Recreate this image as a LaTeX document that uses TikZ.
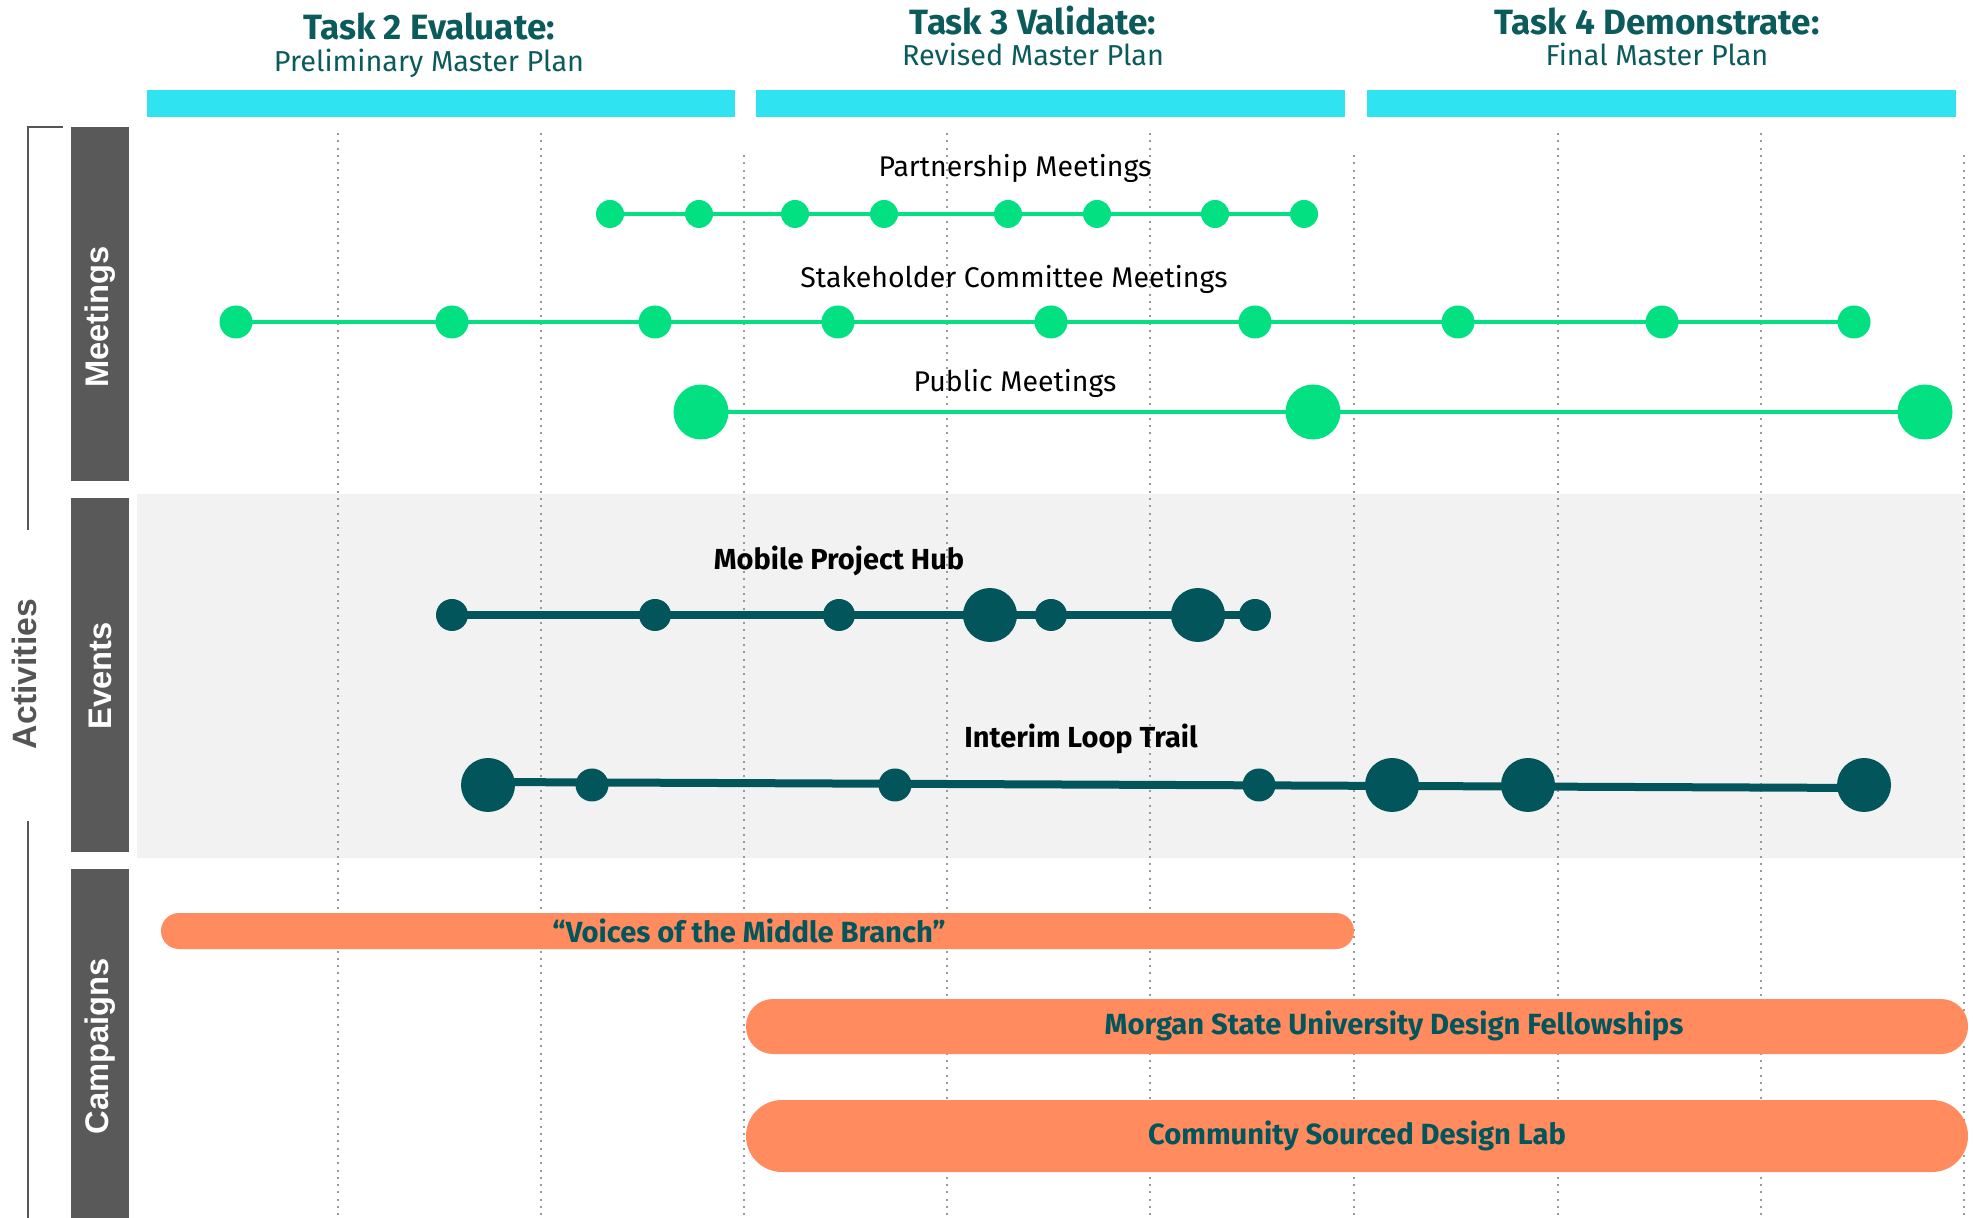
\documentclass[tikz,border=0pt]{standalone}
\usepackage{fontspec}
\setmainfont{Fira Sans}
\newfontfamily\sidefont{Liberation Sans}
\usetikzlibrary{calc,positioning,backgrounds}

\definecolor{taskcyan}{HTML}{30E3F0}
\definecolor{meetgreen}{HTML}{02E082}
\definecolor{darkteal}{HTML}{02555A}
\definecolor{titleteal}{HTML}{0B5A5C}
\definecolor{campaignorange}{HTML}{FF8B5E}
\definecolor{boxgray}{HTML}{595959}
\definecolor{panelgray}{HTML}{F2F2F2}
\definecolor{gridgray}{HTML}{9A9A9A}
\definecolor{bracketgray}{HTML}{555555}

\pgfdeclarelayer{behind}
\pgfsetlayers{background,behind,main}

\begin{document}
\begin{tikzpicture}[x=0.1mm,y=-0.1mm,
  greendot/.style={circle,fill=meetgreen,inner sep=0pt,minimum size=#1},
  tealdot/.style={circle,fill=darkteal,inner sep=0pt,minimum size=#1},
  greenline/.style={draw=meetgreen,line width=0.4mm},
  tealline/.style={draw=darkteal,line width=0.75mm},
  gridline/.style={draw=gridgray,line width=0.2mm,dash pattern=on 0.2mm off 0.53mm},
  bracket/.style={draw=bracketgray,line width=0.2mm},
  tasktitle/.style={anchor=base,text=titleteal,font=\fontsize{10}{12}\selectfont\bfseries},
  tasksub/.style={anchor=base,text=titleteal,font=\fontsize{8.2}{10}\selectfont},
  rowlabel/.style={anchor=base,font=\fontsize{8.1}{10}\selectfont},
  eventlabel/.style={anchor=base,font=\fontsize{8.25}{10}\selectfont\bfseries},
  camplabel/.style={anchor=base,text=darkteal,font=\fontsize{8.3}{10}\selectfont\bfseries},
  sidelabel/.style={rotate=90,text=white,font=\sidefont\fontsize{9.3}{10}\selectfont\bfseries},
  campbar/.style={fill=campaignorange,rounded corners=#1}]

    \useasboundingbox (0,0) rectangle (1973,1218);

    % task headers
    \node[tasktitle] (task2) at (429,40) {Task 2 Evaluate:};
    \node[tasksub] (task2sub) at (429,72) {Preliminary Master Plan};
    \node[tasktitle] (task3) at (1033,35) {Task 3 Validate:};
    \node[tasksub] (task3sub) at (1033,66) {Revised Master Plan};
    \node[tasktitle] (task4) at (1657,35) {Task 4 Demonstrate:};
    \node[tasksub] (task4sub) at (1657,66) {Final Master Plan};

    \fill[taskcyan] (147,90) rectangle (735,117);
    \fill[taskcyan] (756,90) rectangle (1345,117);
    \fill[taskcyan] (1367,90) rectangle (1956,117);

    % events panel and month grid
    \begin{pgfonlayer}{background}
      \fill[panelgray] (137,494) rectangle (1965,858);
      \foreach \x/\top in {338/133,541/133,744/155,947/133,1150/133,1354/155,1558/133,1761/133,1964/155}
        \draw[gridline] (\x,\top) -- (\x,1218);
    \end{pgfonlayer}

    % side boxes
    \fill[boxgray] (71,127) rectangle (129,481);
    \fill[boxgray] (71,498) rectangle (129,852);
    \fill[boxgray] (71,869) rectangle (129,1218);
    \node[sidelabel] (meetlab) at (100,317) {Meetings};
    \node[sidelabel] (eventlab) at (100,676) {Events};
    \node[sidelabel] (camplab) at (100,1046) {Campaigns};

    % activities bracket
    \coordinate (brtick) at (63,127);
    \coordinate (brtop) at (28,127);
    \coordinate (brmid1) at (28,530);
    \coordinate (brmid2) at (28,821);
    \coordinate (brbot) at (28,1218);
    \draw[bracket] (brtick) -- (brtop) -- (brmid1);
    \draw[bracket] (brmid2) -- (brbot);
    \node[rotate=90,text=bracketgray,font=\sidefont\fontsize{9.6}{11}\selectfont\bfseries] (activities) at (24,674) {Activities};

    % meetings
    \node[rowlabel] (pmlab) at (1015,177) {Partnership Meetings};
    \foreach \x [count=\i] in {610,699,795,884,1008,1097,1215,1304}
      \node[greendot=2.8mm] (pm\i) at (\x,214) {};

    \node[rowlabel] (sclab) at (1014,288) {Stakeholder Committee Meetings};
    \foreach \x [count=\i] in {236,452,655,838,1051,1255,1458,1662,1854}
      \node[greendot=3.3mm] (sc\i) at (\x,322) {};

    \node[rowlabel] (publab) at (1015,392) {Public Meetings};
    \foreach \x [count=\i] in {701,1313,1925}
      \node[greendot=5.5mm] (pub\i) at (\x,412) {};

    % events
    \node[eventlabel] (hublab) at (839,570) {Mobile Project Hub};
    \foreach \x/\d [count=\i] in {452/3.2mm,655/3.2mm,839/3.2mm,990/5.4mm,1051/3.2mm,1198/5.4mm,1255/3.2mm}
      \node[tealdot=\d] (hub\i) at (\x,615) {};

    \node[eventlabel] (traillab) at (1081,748) {Interim Loop Trail};
    \foreach \x/\d [count=\i] in {488/5.4mm,592/3.3mm,895/3.3mm,1259/3.3mm,1392/5.4mm,1528/5.4mm,1864/5.4mm}
      \node[tealdot=\d] (trail\i) at (\x,785) {};

    \begin{pgfonlayer}{behind}
      \draw[greenline] (pm1.center) -- (pm8.center);
      \draw[greenline] (sc1.center) -- (sc9.center);
      \draw[greenline] (pub1.center) -- (pub3.center);
      \draw[tealline] (hub1.center) -- (hub7.center);
      \draw[tealline,line width=0.8mm] ($(trail1.center)+(0,-3)$) -- ($(trail7.center)+(0,3)$);
    \end{pgfonlayer}

    % campaigns
    \fill[campbar=1.8mm] (161,913) rectangle (1354,949);
    \node[camplabel] (voices) at (749,943) {“Voices of the Middle Branch”};
    \fill[campbar=2.7mm] (746,999) rectangle (1968,1054);
    \node[camplabel] (morgan) at (1394,1034) {Morgan State University Design Fellowships};
    \fill[campbar=3.6mm] (746,1100) rectangle (1968,1172);
    \node[camplabel] (lab) at (1357,1144) {Community Sourced Design Lab};

\end{tikzpicture}
\end{document}
